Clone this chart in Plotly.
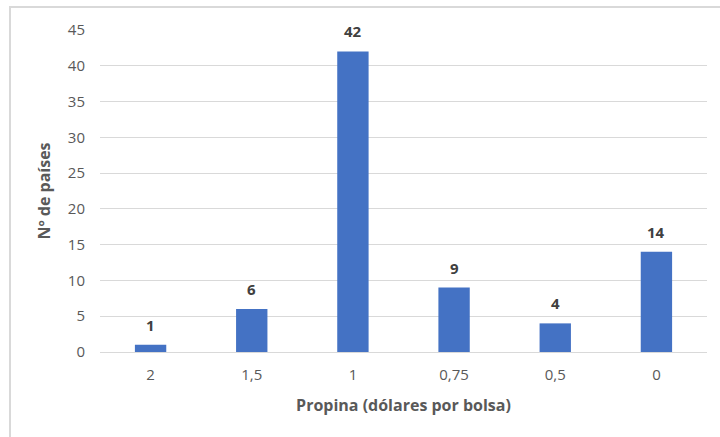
import plotly.graph_objects as go

categories = ["2", "1,5", "1", "0,75", "0,5", "0"]
values = [1, 6, 42, 9, 4, 14]
y_ticks = [0, 5, 10, 15, 20, 25, 30, 35, 40, 45]

W, H = 720, 437
L, R, T, B = 100, 13, 30, 85
pw, ph = W - L - R, H - T - B

fig = go.Figure()
fig.add_trace(go.Bar(
    x=categories, y=values,
    marker=dict(color="#4472C4", line=dict(width=0)),
))

# data labels (category axis positions are the category indices)
for i, v in enumerate(values):
    fig.add_annotation(x=i, y=v, xref="x", yref="y", text=str(v), showarrow=False,
                       yanchor="bottom", yshift=8,
                       font=dict(family="Open Sans", size=15, color="#404040", weight="bold"))

fig.update_layout(
    width=W, height=H,
    margin=dict(l=L, r=R, t=T, b=B),
    paper_bgcolor="white", plot_bgcolor="white",
    bargap=0.69,
    showlegend=False,
    font=dict(family="Open Sans", color="#595959", size=15),
    xaxis=dict(
        type="category", categoryorder="array", categoryarray=categories,
        showgrid=False, zeroline=False, showline=False,
        ticks="", ticklabelstandoff=12, tickfont=dict(size=15, color="#595959"),
        title=dict(text="Propina (dólares por bolsa)", standoff=16,
                   font=dict(size=16, color="#595959", weight="bold")),
    ),
    yaxis=dict(
        range=[0, 45], tickvals=y_ticks, showgrid=True, gridcolor="#D9D9D9",
        gridwidth=1, zeroline=True, zerolinecolor="#D9D9D9", zerolinewidth=1,
        showline=False, ticks="", ticklabelstandoff=14,
        tickfont=dict(size=15, color="#595959"),
        title=dict(text="Nº de países", standoff=13,
                   font=dict(size=16, color="#595959", weight="bold")),
    ),
)

# chart area border (cropped at right/bottom in the reference)
x0 = (10 - L) / pw
y1 = 1 + (T - 7) / ph
fig.add_shape(type="rect", xref="paper", yref="paper",
              x0=x0, x1=1.2, y0=-0.6, y1=y1,
              line=dict(color="#D9D9D9", width=2), layer="below")

fig.write_html("out.html")
